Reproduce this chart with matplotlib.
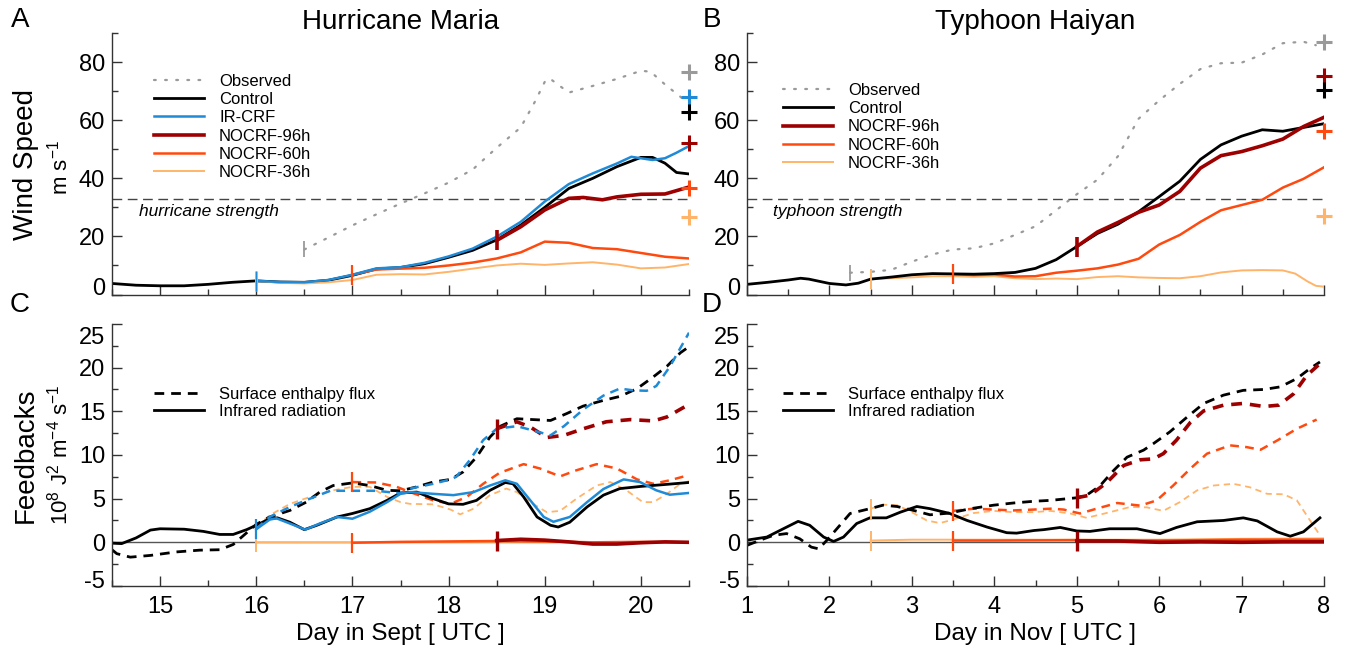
import numpy as np
import matplotlib
matplotlib.use("Agg")
import matplotlib.pyplot as plt
from matplotlib.lines import Line2D
from matplotlib.transforms import ScaledTranslation

plt.rcParams['font.family'] = ['Liberation Sans', 'DejaVu Sans']
plt.rcParams['mathtext.fontset'] = 'custom'
plt.rcParams['mathtext.rm'] = 'Liberation Sans'
plt.rcParams['mathtext.it'] = 'Liberation Sans:italic'
plt.rcParams['axes.unicode_minus'] = False

#################################################################################################
# colours
c_obs = '#9a9a9a'
c_ctl = 'black'
c_ir = '#1f8ad6'
c_96 = '#9c0000'
c_60 = '#ff4a0f'
c_36 = '#ffb469'

#################################################################################################
# Hurricane Maria - wind speed [m/s]
maria_obs_day = [16.5, 16.75, 17.0, 17.25, 17.5, 17.75, 18.0, 18.25, 18.5, 18.75, 18.9, 19.0, 19.05,
                 19.25, 19.5, 19.75, 20.0, 20.1, 20.25, 20.45]
maria_obs = [15.5, 19.6, 23.8, 27.6, 31.3, 34.8, 38.5, 43.0, 50.5, 57.5, 66.5, 73.2, 74.4,
             69.5, 71.8, 74.2, 77.0, 76.7, 72.3, 67.0]

maria_ctl_day = [14.5, 14.75, 15.0, 15.25, 15.5, 15.75, 16.0, 16.25, 16.5, 16.75, 17.0, 17.25, 17.5,
                 17.75, 18.0, 18.25, 18.5, 18.75, 19.0, 19.25, 19.5, 19.75, 20.0, 20.12, 20.25, 20.37, 20.5]
maria_ctl = [3.8, 3.2, 3.0, 3.0, 3.5, 4.2, 4.7, 4.3, 4.2, 4.9, 6.6, 8.8, 9.3,
             10.6, 12.8, 15.2, 18.8, 23.9, 30.0, 36.5, 40.0, 44.0, 47.2, 47.2, 45.2, 42.0, 41.5]

maria_ircrf_day = [16.0, 16.25, 16.5, 16.75, 17.0, 17.25, 17.5, 17.75, 18.0, 18.25, 18.5, 18.75, 19.0,
                   19.25, 19.5, 19.75, 19.9, 20.0, 20.12, 20.25, 20.37, 20.5]
maria_ircrf = [4.7, 4.3, 4.2, 5.0, 6.8, 9.0, 9.4, 10.9, 13.1, 15.8, 19.9, 25.0, 32.0,
               38.0, 41.7, 45.1, 47.4, 46.9, 46.3, 46.9, 48.8, 51.1]

maria_96_day = [18.5, 18.75, 19.0, 19.25, 19.4, 19.6, 19.75, 20.0, 20.25, 20.5]
maria_96 = [18.6, 23.3, 29.1, 33.1, 33.4, 32.6, 33.6, 34.5, 34.6, 37.0]

maria_60_day = [17.0, 17.25, 17.5, 17.75, 18.0, 18.25, 18.5, 18.75, 19.0, 19.25, 19.5, 19.75, 20.0,
                20.25, 20.5]
maria_60 = [6.8, 8.6, 8.9, 9.2, 10.0, 11.0, 12.4, 14.5, 18.2, 17.8, 16.0, 15.6, 14.3, 13.0, 12.4]

maria_36_day = [16.0, 16.25, 16.5, 16.75, 17.0, 17.25, 17.5, 17.75, 18.0, 18.25, 18.5, 18.75, 19.0,
                19.25, 19.5, 19.75, 20.0, 20.25, 20.5]
maria_36 = [4.7, 4.0, 3.8, 4.2, 5.0, 6.8, 7.0, 6.9, 7.8, 8.9, 10.0, 10.6, 10.2,
            10.7, 11.1, 10.3, 9.0, 9.3, 10.5]

# end-of-run crosses (obs, IR-CRF, control, 96h, 60h, 36h)
maria_end = [76.7, 68.1, 62.9, 52.2, 36.8, 26.6]

#################################################################################################
# Typhoon Haiyan - wind speed [m/s]
haiyan_obs_day = [2.25, 2.5, 2.75, 3.0, 3.25, 3.5, 3.75, 4.0, 4.25, 4.5, 4.75, 5.0, 5.25, 5.5, 5.75,
                  6.0, 6.25, 6.5, 6.75, 7.0, 7.25, 7.5, 7.75, 7.9]
haiyan_obs = [7.5, 7.8, 8.5, 11.3, 13.8, 15.5, 15.9, 17.6, 20.5, 23.5, 29.0, 34.5, 39.5, 47.6, 60.5,
              66.8, 72.5, 77.6, 79.6, 79.8, 82.6, 86.5, 87.0, 85.8]

haiyan_ctl_day = [1.0, 1.25, 1.5, 1.65, 1.75, 2.0, 2.2, 2.35, 2.5, 2.75, 3.0, 3.25, 3.5, 3.75, 4.0,
                  4.25, 4.5, 4.75, 5.0, 5.25, 5.5, 5.75, 6.0, 6.25, 6.5, 6.75, 7.0, 7.25, 7.5, 7.75, 8.0]
haiyan_ctl = [3.5, 4.2, 5.0, 5.6, 5.3, 3.8, 3.3, 3.9, 5.3, 6.0, 6.8, 7.2, 7.1, 7.0, 7.2,
              7.6, 9.0, 12.0, 16.5, 21.0, 24.2, 28.5, 33.7, 39.0, 46.5, 51.5, 54.5, 56.7, 56.2, 57.5, 58.8]

haiyan_96_day = [5.0, 5.25, 5.5, 5.75, 6.0, 6.25, 6.5, 6.75, 7.0, 7.25, 7.5, 7.75, 8.0]
haiyan_96 = [16.5, 21.5, 24.8, 28.3, 30.8, 35.5, 43.5, 47.8, 49.2, 51.2, 53.5, 57.8, 61.0]

haiyan_60_day = [3.5, 3.75, 4.0, 4.25, 4.5, 4.75, 5.0, 5.25, 5.5, 5.75, 6.0, 6.25, 6.5, 6.75, 7.0,
                 7.25, 7.5, 7.75, 8.0]
haiyan_60 = [7.0, 6.7, 6.9, 6.2, 6.3, 7.5, 8.2, 9.0, 10.3, 12.3, 17.2, 20.5, 25.0, 29.0, 30.8,
             32.6, 36.8, 39.8, 43.8]

haiyan_36_day = [2.5, 2.75, 3.0, 3.25, 3.5, 3.75, 4.0, 4.25, 4.5, 4.75, 5.0, 5.25, 5.5, 5.75, 6.0,
                 6.25, 6.5, 6.75, 7.0, 7.25, 7.5, 7.65, 7.8, 7.9, 8.0]
haiyan_36 = [5.3, 5.6, 5.9, 6.3, 6.3, 6.1, 6.3, 5.6, 5.3, 5.5, 5.3, 6.0, 6.3, 5.9, 5.7,
             5.6, 6.3, 7.6, 8.3, 8.4, 8.3, 7.2, 4.5, 3.0, 2.7]

# end-of-run crosses (obs, 96h, control, 60h, 36h)
haiyan_end = [87.0, 75.3, 70.4, 56.3, 27.1]

#################################################################################################
# Maria feedbacks [1e8 J2 m-4 s-1]
mf_ctl_ir_day = [14.5, 14.6, 14.75, 14.9, 15.0, 15.25, 15.45, 15.62, 15.76, 15.9, 16.0, 16.14, 16.22,
                 16.35, 16.5, 16.63, 16.84, 17.0, 17.18, 17.36, 17.5, 17.67, 17.84, 18.0, 18.15, 18.29,
                 18.43, 18.59, 18.67, 18.78, 18.92, 19.06, 19.14, 19.26, 19.44, 19.61, 19.78, 20.0,
                 20.23, 20.5]
mf_ctl_ir = [-0.1, -0.15, 0.5, 1.4, 1.55, 1.5, 1.25, 0.9, 0.9, 1.45, 1.95, 2.7, 2.8,
             2.3, 1.45, 1.95, 2.9, 3.3, 3.85, 4.8, 5.65, 5.75, 5.0, 4.4, 4.35, 4.8,
             5.95, 6.85, 6.7, 5.2, 2.9, 1.95, 1.75, 2.3, 4.05, 5.4, 6.15, 6.4,
             6.6, 6.85]
mf_ctl_shf_day = [14.5, 14.55, 14.69, 14.9, 15.17, 15.41, 15.62, 15.76, 15.87, 16.0, 16.14, 16.35,
                  16.52, 16.66, 16.8, 17.0, 17.18, 17.36, 17.5, 17.67, 17.84, 18.02, 18.15, 18.29,
                  18.43, 18.54, 18.71, 18.88, 19.06, 19.23, 19.4, 19.61, 19.78, 19.96, 20.13, 20.27,
                  20.41, 20.5]
mf_ctl_shf = [-0.85, -1.3, -1.7, -1.5, -1.1, -0.9, -0.85, -0.25, 0.8, 2.05, 2.9, 3.65,
              4.6, 5.75, 6.5, 6.8, 6.5, 5.95, 5.9, 6.35, 6.9, 7.2, 8.05, 9.75,
              12.05, 13.3, 14.15, 14.05, 13.95, 14.75, 15.6, 16.25, 16.7, 17.6, 18.95, 20.15,
              21.7, 22.4]
mf_ir_ir_day = [16.0, 16.14, 16.21, 16.35, 16.51, 16.66, 16.84, 17.0, 17.18, 17.36, 17.5, 17.6, 17.84,
                18.05, 18.26, 18.43, 18.59, 18.71, 18.85, 18.99, 19.09, 19.26, 19.44, 19.61, 19.82,
                19.99, 20.16, 20.3, 20.5]
mf_ir_ir = [1.5, 2.6, 2.75, 2.15, 1.45, 2.15, 2.9, 2.7, 3.5, 4.6, 5.55, 5.75, 5.55,
            5.4, 5.75, 6.5, 7.1, 6.7, 4.8, 2.9, 2.35, 2.9, 4.6, 6.1, 7.2,
            6.9, 5.95, 5.45, 5.65]
mf_ir_shf_day = [16.0, 16.14, 16.35, 16.56, 16.77, 17.0, 17.25, 17.5, 17.6, 17.84, 18.02, 18.08, 18.22,
                 18.36, 18.5, 18.71, 18.88, 19.06, 19.2, 19.4, 19.61, 19.78, 19.92, 20.06, 20.16,
                 20.3, 20.5]
mf_ir_shf = [1.55, 2.9, 4.05, 5.0, 5.9, 5.9, 5.9, 5.6, 6.15, 6.7, 7.2, 7.5, 9.4,
             11.7, 13.0, 13.3, 12.8, 12.25, 13.3, 15.2, 16.8, 17.6, 17.4, 17.35, 17.9,
             20.1, 24.0]
mf_96_shf_day = [18.5, 18.71, 18.85, 19.02, 19.2, 19.4, 19.64, 19.89, 20.13, 20.27, 20.5]
mf_96_shf = [13.0, 13.8, 13.2, 12.0, 12.25, 13.0, 13.8, 14.05, 13.9, 14.35, 15.8]
mf_96_ir_day = [18.5, 18.75, 19.0, 19.25, 19.5, 19.75, 20.0, 20.25, 20.5]
mf_96_ir = [0.2, 0.35, 0.25, 0.05, -0.2, -0.2, -0.05, 0.05, 0.0]
mf_60_shf_day = [17.0, 17.25, 17.46, 17.6, 17.84, 18.02, 18.19, 18.36, 18.53, 18.78, 18.95, 19.16,
                 19.33, 19.54, 19.75, 19.96, 20.13, 20.3, 20.5]
mf_60_shf = [6.9, 6.85, 6.35, 5.75, 4.8, 4.4, 5.2, 6.7, 7.95, 8.95, 8.45, 7.55,
             8.25, 8.95, 8.45, 7.2, 6.7, 7.1, 7.7]
mf_60_ir_day = [17.0, 17.5, 18.0, 18.5, 19.0, 19.5, 20.0, 20.5]
mf_60_ir = [-0.05, 0.05, 0.1, 0.15, 0.1, 0.0, 0.05, 0.0]
mf_36_shf_day = [16.0, 16.14, 16.35, 16.56, 16.8, 17.0, 17.18, 17.36, 17.5, 17.6, 17.84, 18.02, 18.12,
                 18.26, 18.43, 18.6, 18.71, 18.85, 19.02, 19.16, 19.33, 19.54, 19.68, 19.85, 20.02,
                 20.13, 20.27, 20.41, 20.5]
mf_36_shf = [1.75, 3.1, 4.4, 5.2, 5.95, 6.35, 6.35, 5.2, 4.6, 4.4, 4.35, 3.75, 3.2,
             3.85, 5.4, 6.15, 5.75, 4.6, 3.45, 3.6, 5.0, 6.5, 6.9, 5.95, 4.6,
             4.6, 5.55, 6.7, 7.0]
mf_36_ir_day = [16.0, 17.0, 18.0, 19.0, 20.0, 20.5]
mf_36_ir = [0.0, 0.0, 0.05, 0.05, 0.0, 0.0]

#################################################################################################
# Haiyan feedbacks [1e8 J2 m-4 s-1]
hf_ctl_ir_day = [1.0, 1.24, 1.44, 1.62, 1.76, 1.93, 2.05, 2.17, 2.33, 2.49, 2.69, 2.86, 3.06, 3.22,
                 3.46, 3.67, 3.91, 4.15, 4.27, 4.48, 4.6, 4.8, 5.0, 5.16, 5.4, 5.73, 6.01, 6.21,
                 6.46, 6.78, 7.02, 7.19, 7.43, 7.59, 7.75, 7.95]
hf_ctl_ir = [0.25, 0.6, 1.55, 2.4, 1.95, 0.6, 0.1, 0.6, 2.15, 2.8, 2.8, 3.45, 4.1, 3.85,
             3.3, 2.5, 1.75, 1.1, 1.05, 1.35, 1.45, 1.7, 1.3, 1.25, 1.55, 1.55, 1.0, 1.7,
             2.35, 2.5, 2.8, 2.45, 1.2, 0.7, 1.2, 2.8]
hf_ctl_shf_day = [1.0, 1.16, 1.32, 1.48, 1.64, 1.78, 1.87, 1.97, 2.09, 2.25, 2.49, 2.65, 2.82, 3.02,
                  3.22, 3.46, 3.71, 3.99, 4.23, 4.48, 4.68, 5.0, 5.12, 5.28, 5.45, 5.61, 5.81, 5.93,
                  6.13, 6.34, 6.54, 6.78, 7.02, 7.27, 7.47, 7.67, 7.83, 7.95]
hf_ctl_shf = [-0.35, 0.25, 0.8, 1.0, 0.4, -0.55, -0.75, 0.25, 1.55, 3.3, 3.85, 4.25, 4.1, 3.65,
              3.15, 3.35, 3.85, 4.25, 4.5, 4.7, 4.8, 5.1, 5.4, 6.45, 8.25, 9.75, 10.55, 11.3,
              12.65, 14.35, 15.9, 16.85, 17.4, 17.5, 17.8, 18.75, 19.9, 20.65]
hf_96_shf_day = [5.0, 5.16, 5.36, 5.57, 5.77, 5.93, 6.05, 6.21, 6.38, 6.54, 6.78, 7.02, 7.27, 7.45,
                 7.63, 7.79, 7.95]
hf_96_shf = [5.1, 5.4, 6.8, 8.8, 9.45, 9.55, 10.15, 11.7, 13.75, 15.05, 15.7, 15.9, 15.55, 15.7,
             17.0, 19.1, 20.45]
hf_96_ir_day = [5.0, 5.5, 6.0, 6.5, 7.0, 7.5, 8.0]
hf_96_ir = [0.15, 0.15, 0.0, 0.05, 0.0, 0.05, 0.05]
hf_60_shf_day = [3.5, 3.75, 3.99, 4.23, 4.48, 4.68, 4.84, 5.04, 5.24, 5.49, 5.77, 5.97, 6.17, 6.38,
                 6.58, 6.86, 7.06, 7.23, 7.43, 7.67, 7.91]
hf_60_shf = [3.6, 3.85, 3.75, 3.65, 3.75, 3.85, 3.75, 3.3, 3.85, 4.5, 4.2, 4.8, 6.5, 8.45,
             10.15, 11.1, 10.9, 10.6, 11.65, 13.0, 14.05]
hf_60_ir_day = [3.5, 4.0, 5.0, 6.0, 7.0, 8.0]
hf_60_ir = [0.2, 0.2, 0.25, 0.2, 0.3, 0.3]
hf_36_shf_day = [2.5, 2.65, 2.82, 2.98, 3.18, 3.34, 3.5, 3.75, 3.99, 4.23, 4.48, 4.68, 4.92, 5.12,
                 5.36, 5.65, 5.85, 6.05, 6.25, 6.46, 6.66, 6.9, 7.1, 7.31, 7.51, 7.67, 7.83, 7.95]
hf_36_shf = [3.85, 4.3, 4.25, 3.55, 2.5, 2.2, 2.6, 3.35, 3.6, 3.45, 3.45, 3.6, 3.3, 2.8,
             3.35, 4.05, 4.0, 3.6, 4.6, 5.95, 6.5, 6.7, 6.3, 5.55, 5.5, 4.8, 2.5, 0.8]
hf_36_ir_day = [2.5, 3.0, 4.0, 5.0, 6.0, 7.0, 8.0]
hf_36_ir = [0.2, 0.3, 0.3, 0.3, 0.3, 0.4, 0.45]

# axis ticks
maria_xticks = [15, 16, 17, 18, 19, 20]
haiyan_xticks = [1, 2, 3, 4, 5, 6, 7, 8]
wind_yticks = [0, 20, 40, 60, 80]
fb_yticks = [-5, 0, 5, 10, 15, 20, 25]

#################################################################################################
fig = plt.figure(figsize=(13.46, 6.5), dpi=100)
axA = fig.add_axes([0.0832, 0.5469, 0.4287, 0.4023])
axB = fig.add_axes([0.5550, 0.5469, 0.4287, 0.4023])
axC = fig.add_axes([0.0832, 0.0985, 0.4287, 0.4031])
axD = fig.add_axes([0.5550, 0.0985, 0.4287, 0.4031])

TICK_FS = 17
LEG_FS = 12
LEG_KW = dict(loc='upper left', frameon=False, fontsize=LEG_FS, handlelength=3.0, handletextpad=0.9,
              borderpad=0, borderaxespad=0)


def style_axis(ax, xlim, ylim, xt, yt, ystep, xlabels):
    ax.set_xlim(*xlim)
    ax.set_ylim(*ylim)
    for s in ['top', 'right']:
        ax.spines[s].set_visible(False)
    for s in ['left', 'bottom']:
        ax.spines[s].set_color('#333333')
        ax.spines[s].set_linewidth(1.0)
    ax.set_xticks(xt)
    ax.set_xticks(np.arange(xlim[0], xlim[1] + 0.01, 0.5), minor=True)
    ax.set_yticks(yt)
    ax.set_yticks(np.arange(ylim[0], ylim[1] + 0.01, ystep), minor=True)
    ax.tick_params(which='both', direction='in', color='#333333', width=1.0, labelsize=TICK_FS)
    ax.tick_params(which='major', length=7)
    ax.tick_params(which='minor', length=4)
    ax.tick_params(axis='y', pad=5)
    ax.tick_params(axis='x', pad=7, labelbottom=xlabels)


style_axis(axA, (14.5, 20.5), (0, 90), maria_xticks, wind_yticks, 10, False)
style_axis(axB, (1, 8), (0, 90), haiyan_xticks, wind_yticks, 10, False)
style_axis(axC, (14.5, 20.5), (-5, 25), maria_xticks, fb_yticks, 2.5, True)
style_axis(axD, (1, 8), (-5, 25), haiyan_xticks, fb_yticks, 2.5, True)


def start_tick(ax, x, y, color, ms=13, mew=1.5):
    ax.plot([x], [y], marker='|', ms=ms, mew=mew, color=color, zorder=6)


# ---------------- A : Maria wind
axA.axhline(33, color='#444444', lw=1.0, dashes=(7, 4), zorder=1)
axA.text(14.78, 28.5, 'hurricane strength', style='italic', fontsize=12.5, va='center', ha='left')
axA.plot(maria_obs_day, maria_obs, color=c_obs, lw=1.6, ls=(0, (0.8, 4.2)), dash_capstyle='round',
         label='Observed')
axA.plot(maria_ctl_day, maria_ctl, color=c_ctl, lw=2.0, label='Control')
axA.plot(maria_36_day, maria_36, color=c_36, lw=1.4, label='NOCRF-36h')
axA.plot(maria_60_day, maria_60, color=c_60, lw=1.8, label='NOCRF-60h')
axA.plot(maria_96_day, maria_96, color=c_96, lw=2.6, label='NOCRF-96h')
axA.plot(maria_ircrf_day, maria_ircrf, color=c_ir, lw=1.8, label='IR-CRF')
start_tick(axA, maria_obs_day[0], maria_obs[0], c_obs, ms=12, mew=1.3)
start_tick(axA, maria_36_day[0], maria_36[0], c_36, ms=15, mew=2.2)
start_tick(axA, maria_ircrf_day[0], maria_ircrf[0], c_ir, ms=15, mew=1.0)
start_tick(axA, maria_60_day[0], maria_60[0], c_60, ms=15, mew=1.6)
start_tick(axA, maria_96_day[0], maria_96[0], c_96, ms=15, mew=2.6)
for val, col in zip(maria_end, [c_obs, c_ir, c_ctl, c_96, c_60, c_36]):
    axA.plot([20.5], [val], marker='+', ms=11, mew=2.2, color=col, clip_on=False, zorder=7)

hA = {h.get_label(): h for h in axA.get_lines() if not h.get_label().startswith('_')}
orderA = ['Observed', 'Control', 'IR-CRF', 'NOCRF-96h', 'NOCRF-60h', 'NOCRF-36h']
axA.legend([hA[k] for k in orderA], orderA, bbox_to_anchor=(0.073, 0.845), labelspacing=0.2, **LEG_KW)

# ---------------- B : Haiyan wind
axB.axhline(33, color='#444444', lw=1.0, dashes=(7, 4), zorder=1)
axB.text(1.32, 28.7, 'typhoon strength', style='italic', fontsize=12.5, va='center', ha='left')
axB.plot(haiyan_obs_day, haiyan_obs, color=c_obs, lw=1.6, ls=(0, (0.8, 4.2)), dash_capstyle='round',
         label='Observed')
axB.plot(haiyan_36_day, haiyan_36, color=c_36, lw=1.4, label='NOCRF-36h')
axB.plot(haiyan_60_day, haiyan_60, color=c_60, lw=1.8, label='NOCRF-60h')
axB.plot(haiyan_ctl_day, haiyan_ctl, color=c_ctl, lw=2.0, label='Control')
axB.plot(haiyan_96_day, haiyan_96, color=c_96, lw=2.6, label='NOCRF-96h')
start_tick(axB, haiyan_obs_day[0], haiyan_obs[0], c_obs, ms=12, mew=1.3)
start_tick(axB, haiyan_36_day[0], haiyan_36[0], c_36, ms=15, mew=1.4)
start_tick(axB, haiyan_60_day[0], haiyan_60[0], c_60, ms=15, mew=1.6)
start_tick(axB, haiyan_96_day[0], haiyan_96[0], c_96, ms=15, mew=2.6)
for val, col in zip(haiyan_end, [c_obs, c_96, c_ctl, c_60, c_36]):
    axB.plot([8.0], [val], marker='+', ms=11, mew=2.2, color=col, clip_on=False, zorder=7)

hB = {h.get_label(): h for h in axB.get_lines() if not h.get_label().startswith('_')}
orderB = ['Observed', 'Control', 'NOCRF-96h', 'NOCRF-60h', 'NOCRF-36h']
axB.legend([hB[k] for k in orderB], orderB, bbox_to_anchor=(0.0624, 0.81), labelspacing=0.2, **LEG_KW)

# ---------------- C : Maria feedbacks
axC.axhline(0, color='#555555', lw=1.0, zorder=1)
axC.plot(mf_36_shf_day, mf_36_shf, color=c_36, lw=1.3, dashes=(3.5, 2.5))
axC.plot(mf_36_ir_day, mf_36_ir, color=c_36, lw=1.4)
axC.plot(mf_60_shf_day, mf_60_shf, color=c_60, lw=1.8, dashes=(3.5, 2.5))
axC.plot(mf_60_ir_day, mf_60_ir, color=c_60, lw=1.8)
axC.plot(mf_ctl_shf_day, mf_ctl_shf, color=c_ctl, lw=2.0, dashes=(3.5, 2.5))
axC.plot(mf_ctl_ir_day, mf_ctl_ir, color=c_ctl, lw=2.0)
axC.plot(mf_96_shf_day, mf_96_shf, color=c_96, lw=2.6, dashes=(3.0, 2.2))
axC.plot(mf_96_ir_day, mf_96_ir, color=c_96, lw=2.6)
axC.plot(mf_ir_shf_day, mf_ir_shf, color=c_ir, lw=1.8, dashes=(3.5, 2.5))
axC.plot(mf_ir_ir_day, mf_ir_ir, color=c_ir, lw=1.8)
start_tick(axC, mf_36_ir_day[0], mf_36_ir[0], c_36, ms=14, mew=1.4)
start_tick(axC, mf_ir_ir_day[0], mf_ir_ir[0], c_ir, ms=14, mew=1.6)
start_tick(axC, mf_60_ir_day[0], mf_60_ir[0], c_60, ms=14, mew=1.6)
start_tick(axC, mf_60_shf_day[0], mf_60_shf[0], c_60, ms=14, mew=1.6)
start_tick(axC, mf_96_ir_day[0], mf_96_ir[0], c_96, ms=14, mew=2.4)
start_tick(axC, mf_96_shf_day[0], mf_96_shf[0], c_96, ms=14, mew=2.4)

fb_handles = [Line2D([], [], color='black', lw=2.0, dashes=(3.5, 2.5)),
              Line2D([], [], color='black', lw=2.0)]
fb_labels = ['Surface enthalpy flux', 'Infrared radiation']
axC.legend(fb_handles, fb_labels, bbox_to_anchor=(0.073, 0.761), labelspacing=0.12, **LEG_KW)

# ---------------- D : Haiyan feedbacks
axD.axhline(0, color='#555555', lw=1.0, zorder=1)
axD.plot(hf_36_shf_day, hf_36_shf, color=c_36, lw=1.3, dashes=(3.5, 2.5))
axD.plot(hf_36_ir_day, hf_36_ir, color=c_36, lw=1.4)
axD.plot(hf_60_shf_day, hf_60_shf, color=c_60, lw=1.8, dashes=(3.5, 2.5))
axD.plot(hf_60_ir_day, hf_60_ir, color=c_60, lw=1.8)
axD.plot(hf_ctl_shf_day, hf_ctl_shf, color=c_ctl, lw=2.0, dashes=(3.5, 2.5))
axD.plot(hf_ctl_ir_day, hf_ctl_ir, color=c_ctl, lw=2.0)
axD.plot(hf_96_shf_day, hf_96_shf, color=c_96, lw=2.6, dashes=(3.0, 2.2))
axD.plot(hf_96_ir_day, hf_96_ir, color=c_96, lw=2.6)
start_tick(axD, hf_36_ir_day[0], hf_36_ir[0], c_36, ms=14, mew=1.4)
start_tick(axD, hf_36_shf_day[0], hf_36_shf[0], c_36, ms=14, mew=1.4)
start_tick(axD, hf_60_ir_day[0], hf_60_ir[0], c_60, ms=14, mew=1.6)
start_tick(axD, hf_60_shf_day[0], hf_60_shf[0], c_60, ms=14, mew=1.6)
start_tick(axD, hf_96_ir_day[0], hf_96_ir[0], c_96, ms=14, mew=2.4)
start_tick(axD, hf_96_shf_day[0], hf_96_shf[0], c_96, ms=14, mew=2.4)

axD.legend(fb_handles, fb_labels, bbox_to_anchor=(0.0624, 0.761), labelspacing=0.12, **LEG_KW)

# nudge end tick labels inward like the original
for ax in (axA, axB):
    lab = ax.yaxis.get_major_ticks()[0].label1
    lab.set_transform(lab.get_transform() + ScaledTranslation(0, 5.5 / 72, fig.dpi_scale_trans))
for ax in (axC, axD):
    ticks = ax.yaxis.get_major_ticks()
    lab = ticks[0].label1
    lab.set_transform(lab.get_transform() + ScaledTranslation(0, 5 / 72, fig.dpi_scale_trans))
    lab = ticks[len(fb_yticks) - 1].label1
    lab.set_transform(lab.get_transform() + ScaledTranslation(0, -8 / 72, fig.dpi_scale_trans))

# ---------------- labels
fig.text(400.5 / 1346, 1 - 22 / 650, 'Hurricane Maria', fontsize=20, ha='center', va='center')
fig.text(1035.5 / 1346, 1 - 22 / 650, 'Typhoon Haiyan', fontsize=20, ha='center', va='center')
for letter, x, y in [('A', 20, 20), ('B', 712, 20), ('C', 20, 305), ('D', 712, 305)]:
    fig.text(x / 1346, 1 - y / 650, letter, fontsize=20, ha='center', va='center')

fig.text(26 / 1346, 1 - 164 / 650, 'Wind Speed', fontsize=20, rotation=90, ha='center', va='center')
fig.text(60 / 1346, 1 - 168 / 650, 'm s$^{-1}$', fontsize=16, rotation=90, ha='center', va='center')
fig.text(26 / 1346, 1 - 455 / 650, 'Feedbacks', fontsize=20, rotation=90, ha='center', va='center')
fig.text(60 / 1346, 1 - 455 / 650, '10$^8$ J$^2$ m$^{-4}$ s$^{-1}$', fontsize=16, rotation=90,
         ha='center', va='center')

fig.text(400.5 / 1346, 1 - 634 / 650, 'Day in Sept [ UTC ]', fontsize=17.5, ha='center', va='center')
fig.text(1035.5 / 1346, 1 - 634 / 650, 'Day in Nov [ UTC ]', fontsize=17.5, ha='center', va='center')

fig.savefig('out.png', dpi=100)
